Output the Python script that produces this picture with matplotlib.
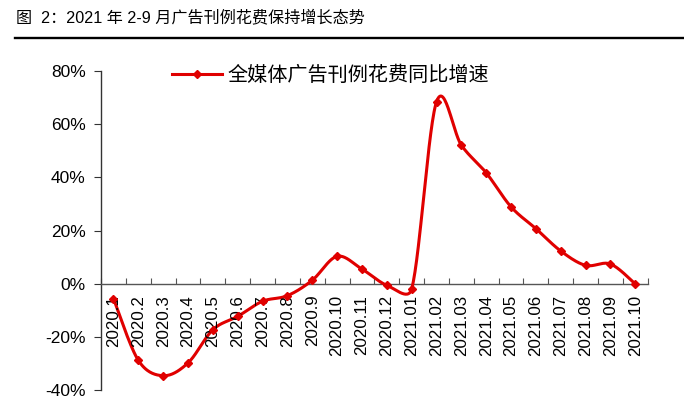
import numpy as np
import matplotlib
matplotlib.use("Agg")
import matplotlib.pyplot as plt
from matplotlib.lines import Line2D

plt.rcParams['font.family'] = ['Liberation Sans', 'Noto Sans CJK SC', 'DejaVu Sans']

categories = ["2020.1", "2020.2", "2020.3", "2020.4", "2020.5", "2020.6", "2020.7",
              "2020.8", "2020.9", "2020.10", "2020.11", "2020.12", "2021.01", "2021.02",
              "2021.03", "2021.04", "2021.05", "2021.06", "2021.07", "2021.08",
              "2021.09", "2021.10"]
values = [-5.6, -28.8, -34.6, -29.8, -17.3, -12.3, -6.6, -4.5, 1.3, 10.3, 5.5, -0.6,
          -2.0, 68.4, 52.1, 41.7, 28.9, 20.7, 12.3, 6.9, 7.4, -0.1]
series_name = "全媒体广告刊例花费同比增速"
title = "图  2：2021 年 2-9 月广告刊例花费保持增长态势"
yticks = [-40, -20, 0, 20, 40, 60, 80]

fig = plt.figure(figsize=(6.84, 3.96), dpi=100)
ax = fig.add_axes([0.1477, 0.015, 0.7993, 0.8057])
ax.set_xlim(-0.5, len(categories) - 0.5)
ax.set_ylim(-40, 80)


def _clamp(v, limit):
    n = np.linalg.norm(v)
    return v * (limit / n) if n > limit and n > 0 else v


def smooth(ax, x, y, n=30, k=0.5):
    # Excel-like smoothed line (Catmull-Rom Bezier in pixel space,
    # control arms limited relative to the segment length)
    fig.canvas.draw()
    P = ax.transData.transform(np.column_stack([x, y]))
    out = []
    m = len(P)
    for i in range(m - 1):
        p0 = P[max(i - 1, 0)]; p1 = P[i]; p2 = P[i + 1]; p3 = P[min(i + 2, m - 1)]
        seg = np.linalg.norm(p2 - p1)
        c1 = p1 + _clamp((p2 - p0) / 6.0, k * seg)
        c2 = p2 - _clamp((p3 - p1) / 6.0, k * seg)
        tt = np.linspace(0, 1, n, endpoint=(i == m - 2))[:, None]
        b = (1 - tt) ** 3 * p1 + 3 * (1 - tt) ** 2 * tt * c1 + 3 * (1 - tt) * tt ** 2 * c2 + tt ** 3 * p2
        out.append(b)
    B = np.vstack(out)
    D = ax.transData.inverted().transform(B)
    return D[:, 0], D[:, 1]


xpos = np.arange(len(categories))
red = "#E00000"
sx, sy = smooth(ax, xpos, values)
ax.plot(sx, sy, color=red, lw=2.2, zorder=3, solid_capstyle='round')
ax.plot(xpos, values, ls='none', marker='D', ms=4.5, color=red, zorder=4)

ax.set_yticks(yticks)
ax.set_yticklabels([f"{v}%" for v in yticks], fontsize=12.5)

for s in ['top', 'right']:
    ax.spines[s].set_visible(False)
ax.spines['bottom'].set_position(('data', 0))
ax.spines['left'].set_color('#333333')
ax.spines['bottom'].set_color('#555555')
ax.spines['left'].set_linewidth(1.0)
ax.spines['bottom'].set_linewidth(1.0)

ax.set_xticks(np.arange(-0.5, len(categories) + 0.5, 1.0))
ax.set_xticklabels([])
ax.tick_params(axis='x', direction='in', length=4.5, color='#555555')
ax.tick_params(axis='y', direction='out', length=5, color='#333333', pad=6)

for i, c in enumerate(categories):
    ax.annotate(c, xy=(xpos[i], 0), xytext=(0, -8), textcoords='offset points',
                rotation=90, ha='center', va='top', fontsize=12.2, color='black')

leg_handle = Line2D([], [], color=red, lw=2.2, marker='D', ms=4.5)
ax.legend([leg_handle], [series_name], loc='center left', bbox_to_anchor=(0.097, 0.985),
          frameon=False, handlelength=2.45, handletextpad=0.3,
          prop={'family': ['Noto Sans CJK SC'], 'size': 14.5})

ttl = fig.text(16 / 684, 0.955, title, fontsize=13, ha='left', va='center',
               family=['Liberation Sans', 'Noto Sans CJK SC'])
fig.canvas.draw()
w = ttl.get_window_extent().width
ttl.set_fontsize(13 * 347.0 / w)
fig.add_artist(Line2D([0.022, 1.0], [0.905, 0.905], transform=fig.transFigure,
                      color='black', lw=1.7))

fig.savefig("out.png", dpi=100)
